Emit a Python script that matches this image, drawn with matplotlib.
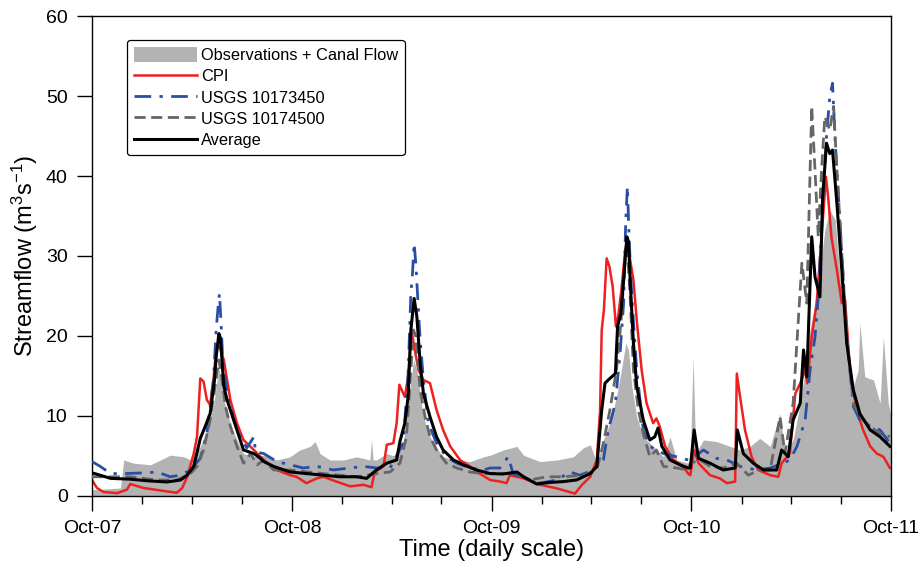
import matplotlib
matplotlib.use("Agg")
import matplotlib.pyplot as plt
import matplotlib.dates as mdates
from matplotlib.patches import Patch
from matplotlib.lines import Line2D
import pandas as pd

plt.rcParams['font.family'] = ['Liberation Sans', 'DejaVu Sans']
plt.rcParams['mathtext.fontset'] = 'custom'
plt.rcParams['mathtext.rm'] = 'Liberation Sans'
plt.rcParams['mathtext.it'] = 'Liberation Sans:italic'

START = '2007-10-01'
END = '2011-10-01'

# ---- data: days since 2007-10-01 and streamflow (m3/s) ----
obs_days = [0, 9, 52, 58, 76, 107, 143, 168, 180, 198, 210, 222, 232, 241, 253, 265, 277, 296, 314, 338,
            362, 380, 399, 408, 417, 435, 460, 484, 508, 511, 514, 520, 539, 557, 569, 581, 588, 594, 603, 612, 624, 642, 667, 691, 716,
            728, 752, 777, 789, 819, 850, 880, 898, 911, 923, 935, 947, 959, 968, 976, 981, 987, 996, 1008, 1026, 1045, 1057, 1069, 1090,
            1094, 1099, 1104, 1118, 1142, 1167, 1185, 1203, 1221, 1240, 1258, 1267, 1282, 1295, 1304, 1313, 1322, 1331, 1340, 1349, 1359,
            1368, 1380, 1392, 1401, 1404, 1413, 1429, 1441, 1447, 1456, 1461]
obs_vals = [0.8, 0.8, 1.0, 4.5, 4.1, 3.9, 5.1, 4.9, 4.5, 6.2, 8.3, 11.2, 16, 12, 9, 7, 5.3, 4.9, 5.1, 4.5,
            4.9, 5.75, 6.2, 6.8, 5.3, 4.5, 4.5, 4.9, 4.5, 7.0, 4.5, 4.5, 5.3, 4.9, 6.6, 13.25, 17, 15.75, 11.2, 8.25, 6.6, 4.9, 4.5, 4.3, 4.9,
            5.1, 5.75, 6.2, 5.1, 4.3, 4.5, 4.9, 6.0, 6.4, 4.1, 7.0, 9.1, 12.4, 15.75, 19.1, 18.25, 13.7, 9.9, 7.4, 6.2, 4.9, 7.4, 4.5, 4.1,
            4.5, 17.4, 5.3, 7.0, 6.8, 6.2, 5.75, 6.2, 7.2, 6.2, 10.3, 5.3, 7.0, 11.6, 15.75, 20.75, 24.1, 28.25, 33.25, 35.75, 34.5,
            27.4, 19.9, 13.7, 15.75, 21.6, 14.9, 14.5, 11.6, 19.9, 11.6, 9.9]

cpi_days = [0, 9, 21, 46, 64, 70, 94, 119, 155, 165, 174, 186, 192, 198, 204, 210, 216, 222, 227, 233, 241, 247, 253, 265, 277, 296, 314, 338,
            362, 374, 392, 411, 423, 447, 472, 496, 511, 517, 533, 539, 551, 557, 562, 572, 578, 584, 589, 597, 606, 618, 630, 642, 655, 673, 691, 709,
            728, 746, 758, 764, 789, 819, 850, 883, 896, 911, 923, 929, 932, 936, 941, 946, 952, 958, 962, 968, 975, 979, 984, 990, 996, 1005,
            1014, 1026, 1032, 1038, 1048, 1063, 1081, 1090,
            1094, 1101, 1109, 1130, 1148, 1161, 1176, 1179, 1185, 1194, 1206, 1218, 1240, 1255, 1261, 1276, 1286, 1295, 1304, 1308, 1316,
            1325, 1334, 1342, 1346, 1352, 1362, 1371, 1377, 1386, 1398, 1410, 1423, 1435, 1447, 1459]
cpi_vals = [2.0, 1.0, 0.5, 0.35, 0.8, 1.5, 1.0, 0.75, 0.4, 1.0, 2.4, 5.3, 7.4, 14.7, 14.3, 12, 11.4, 14.5, 18.3, 18.7, 17, 14.5, 12, 9.1, 7, 5.75, 4.5, 3.25,
            2.6, 2.4, 1.6, 2.2, 2.4, 1.8, 1.2, 1.4, 1.1, 3.0, 3.7, 6.4, 6.6, 9.1, 13.9, 12.4, 14.9, 20.75, 18.7, 15.75, 14.5, 14.1, 10.75, 8.25, 6.2, 4.5, 3.7, 2.8,
            2.0, 1.8, 1.6, 2.6, 2.2, 1.4, 0.95, 0.3, 1.4, 2.4, 4.5, 10.75, 20.75, 23.25, 29.7, 28.7, 26.2, 21.2, 22.4, 25.75, 30.75, 32, 29.5, 27, 22, 15.75,
            11.6, 9.1, 9.7, 8.7, 6.2, 4.5, 3.7, 2.8,
            2.6, 5.75, 4.1, 2.6, 2.2, 1.6, 1.8, 15.3, 12.4, 8.25, 4.9, 3.25, 2.6, 2.4, 4.1, 5.3, 12.8, 14.1, 15.75, 14.1, 19.9,
            24.1, 32.4, 39.9, 37.4, 32.4, 28.25, 24.1, 24.5, 15.75, 10.75, 8.25, 6.2, 5.3, 4.9, 3.5]

usgs1_days = [0, 15, 34, 58, 100, 119, 143, 162, 180, 198, 210, 222, 227, 230, 233, 236, 239, 247, 259, 271, 283, 296, 299, 314, 338,
              362, 386, 411, 441, 472, 496, 520, 545, 569, 578, 583, 586, 589, 592, 595, 600, 606, 615, 630, 648, 667, 691, 716,
              728, 746, 761, 770, 801, 819, 850, 874, 892, 917, 935, 944, 957, 966, 972, 976, 979, 982, 987, 996, 1008, 1020, 1032, 1045, 1069, 1090,
              1094, 1118, 1142, 1161, 1185, 1215, 1240, 1264, 1276, 1289, 1304, 1313, 1322, 1328, 1336, 1343, 1349, 1354, 1359, 1365, 1371,
              1380, 1392, 1404, 1423, 1441, 1459]
usgs1_vals = [4.3, 3.7, 2.8, 2.8, 2.9, 3.0, 2.4, 2.6, 3.25, 4.7, 7.8, 14.5, 20.75, 23.25, 25.3, 21.6, 17, 12.8, 9.5, 7.4, 6.0, 7.4, 5.5, 5.3, 4.3,
              3.9, 3.5, 3.7, 3.25, 3.5, 3.7, 3.5, 3.5, 6.6, 15.3, 25.3, 27.8, 31.6, 29.1, 25.5, 19.5, 14.5, 9.1, 6.6, 4.9, 4.1, 3.5, 3.25,
              3.5, 3.5, 4.9, 2.8, 2.0, 1.6, 2.0, 3.0, 2.6, 3.25, 4.5, 8.25, 11.6, 18.25, 24.1, 34.5, 38.7, 32.4, 24.9, 15.75, 8.25, 6.2, 5.75, 5.3, 4.9, 4.5,
              4.5, 5.75, 4.7, 4.5, 3.7, 3.25, 3.5, 4.1, 4.5, 6.2, 9.5, 15.75, 19.9, 24.9, 36.6, 44.9, 49.9, 51.6, 44.1, 37.4, 30.3,
              19.9, 11.2, 9.5, 8.7, 8.25, 6.6]

usgs2_days = [0, 34, 70, 119, 155, 180, 192, 204, 216, 226, 232, 237, 244, 253, 265, 277, 290, 302, 314, 332,
              362, 423, 484, 520, 545, 563, 575, 581, 588, 592, 600, 609, 618, 630, 648, 667, 691, 716,
              728, 777, 801, 831, 862, 898, 923, 935, 947, 959, 968, 975, 979, 984, 990, 999, 1008, 1020, 1032, 1045, 1069, 1090,
              1094, 1112, 1130, 1154, 1179, 1200, 1221, 1240, 1258, 1267, 1282, 1298, 1307, 1316, 1322, 1328, 1334, 1340, 1349, 1356,
              1362, 1371, 1380, 1392, 1404, 1423, 1441, 1459]
usgs2_vals = [2.4, 2.4, 2.4, 2.0, 2.0, 2.8, 3.7, 5.75, 9.5, 14.1, 17, 14.9, 11.2, 8.7, 6.2, 4.1, 5.3, 3.9, 4.5, 3.25,
              3.25, 2.8, 2.4, 2.8, 3.0, 4.1, 7.4, 13.7, 20.75, 19.9, 13.25, 9.9, 7.4, 5.75, 4.1, 3.5, 3.0, 2.8,
              2.8, 2.8, 2.0, 2.4, 2.4, 2.6, 3.25, 6.6, 10.75, 15.75, 22.4, 29.9, 30.75, 24.9, 15.75, 10.75, 7.8, 4.9, 5.75, 3.7, 3.5, 3.25,
              4.1, 4.5, 3.7, 3.5, 4.1, 2.6, 3.25, 3.25, 9.9, 5.3, 11.6, 29.1, 24.1, 48.7, 40.75, 32.4, 40.75, 47.4, 45.75, 48.7,
              40.75, 30.3, 19.9, 11.6, 9.9, 8.7, 7.8, 7.4]

avg_days = [0, 34, 70, 101, 137, 162, 174, 186, 198, 207, 216, 224, 227, 232, 235, 238, 241, 247, 253, 265, 277, 296, 308, 314, 332, 351,
            362, 392, 423, 453, 484, 502, 520, 539, 557, 563, 572, 578, 583, 589, 594, 600, 606, 618, 630, 642, 661, 679, 703,
            728, 752, 777, 789, 813, 838, 862, 886, 911, 923, 932, 938, 947, 957, 961, 967, 972, 978, 981, 984, 990, 996, 1008, 1020,
            1029, 1035, 1042, 1057, 1075, 1090,
            1094, 1101, 1109, 1130, 1154, 1176, 1180, 1191, 1209, 1228, 1252, 1261, 1273, 1282, 1295, 1301, 1307, 1316, 1322, 1331,
            1336, 1343, 1349, 1354, 1362, 1371, 1380, 1392, 1404, 1423, 1441, 1459]
avg_vals = [2.9, 2.2, 2.1, 1.9, 1.75, 2.0, 2.6, 3.7, 7.2, 8.7, 10.3, 14.5, 17.4, 20.3, 19.7, 16.6, 13.7, 12.0, 10.75, 8.25, 5.75, 5.3, 4.7, 4.3, 3.7, 3.25,
            3.0, 2.8, 2.6, 2.4, 2.4, 2.2, 3.25, 4.1, 4.5, 6.8, 9.1, 12.4, 20.75, 24.7, 22.4, 16.6, 12.8, 9.9, 7.4, 5.75, 4.5, 3.9, 3.25,
            2.8, 2.75, 3.0, 2.4, 1.5, 1.7, 1.8, 2.0, 2.8, 3.7, 10.75, 14.1, 14.7, 15.3, 21.2, 22.8, 27, 32.4, 31.8, 27, 19.1, 13.7, 9.5, 7.0,
            7.4, 8.5, 6.2, 4.5, 3.9, 3.5,
            3.5, 8.25, 4.7, 4.1, 3.25, 3.5, 8.25, 5.3, 4.1, 3.25, 3.25, 5.75, 4.9, 9.5, 11.6, 18.25, 14.9, 32.4, 27.4, 24.9,
            37.4, 44.1, 42.8, 43.25, 36.6, 28.25, 19.1, 13.25, 10.3, 8.25, 7.4, 6.2]

labels = ['Observations + Canal Flow', 'CPI', 'USGS 10173450', 'USGS 10174500', 'Average']
yticks = [0, 10, 20, 30, 40, 50, 60]


def to_dates(days):
    return pd.Timestamp(START) + pd.to_timedelta(days, unit='D')


fig = plt.figure(figsize=(9.22, 5.68), dpi=100)
ax = fig.add_axes([0.0998, 0.1268, 0.8666, 0.845])

c_obs = '#b3b3b3'
c_red = '#ee2020'
c_blue = '#2a4ea6'
c_gray = '#666666'

ax.fill_between(to_dates(obs_days), 0, obs_vals, color=c_obs, lw=0, zorder=1)
ax.plot(to_dates(cpi_days), cpi_vals, color=c_red, lw=1.8, zorder=2)
ax.plot(to_dates(usgs1_days), usgs1_vals, color=c_blue, lw=2.0, dashes=(6, 3, 1.2, 3), zorder=3)
ax.plot(to_dates(usgs2_days), usgs2_vals, color=c_gray, lw=2.0, dashes=(4, 2), zorder=4)
ax.plot(to_dates(avg_days), avg_vals, color='black', lw=2.2, zorder=5)

ax.set_xlim(pd.Timestamp(START), pd.Timestamp(END))
ax.set_ylim(0, 60)
ax.set_yticks(yticks)
ax.xaxis.set_major_locator(mdates.MonthLocator(bymonth=[10], bymonthday=1))
ax.xaxis.set_major_formatter(mdates.DateFormatter('%b-%y'))
ax.xaxis.set_minor_locator(mdates.MonthLocator(bymonth=[1, 4, 7], bymonthday=1))
ax.tick_params(axis='both', which='major', direction='out', length=11, width=1, labelsize=14, pad=6.5)
ax.tick_params(axis='x', which='minor', direction='out', length=6, width=1)
for s in ax.spines.values():
    s.set_linewidth(1.0)

ax.set_xlabel('Time (daily scale)', fontsize=17, labelpad=1)
ax.set_ylabel(r'Streamflow (m$^{3}$s$^{-1}$)', fontsize=17, labelpad=4.5)

handles = [Patch(facecolor=c_obs, edgecolor='none'),
           Line2D([], [], color=c_red, lw=1.8),
           Line2D([], [], color=c_blue, lw=2.0, dashes=(6, 3, 1.2, 3)),
           Line2D([], [], color=c_gray, lw=2.0, dashes=(4, 2)),
           Line2D([], [], color='black', lw=2.2)]
leg = ax.legend(handles, labels, loc='upper left', bbox_to_anchor=(0.044, 0.95), borderaxespad=0,
                fontsize=11.8, handlelength=3.85, handleheight=1.1, handletextpad=0.25, labelspacing=0.3,
                borderpad=0.4, fancybox=True, framealpha=1, edgecolor='black')
leg.get_frame().set_linewidth(0.9)

fig.savefig('out.png', dpi=100)
